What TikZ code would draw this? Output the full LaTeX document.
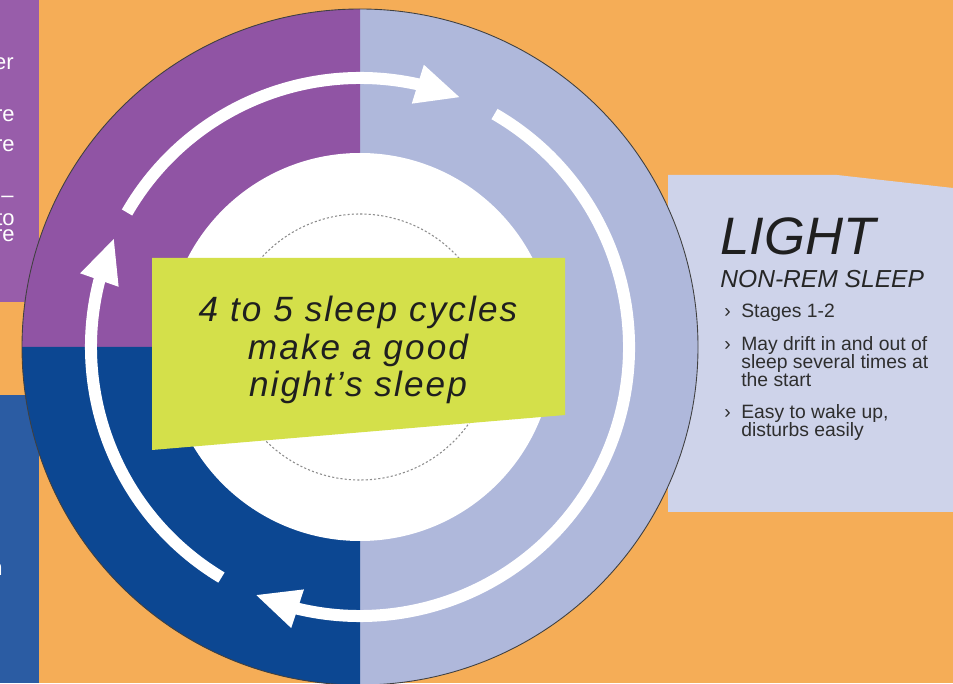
\documentclass[tikz,border=0pt]{standalone}
\usepackage{fontspec}
\setmainfont{Liberation Sans}
\newfontfamily\cyclefont[LetterSpace=6]{Liberation Sans}
\usepackage{xcolor}
\usepackage{tikz}
\usetikzlibrary{positioning,calc,arrows.meta,bending}
\definecolor{sleeporange}{HTML}{F5AD57}
\definecolor{remviolet}{HTML}{9054A4}
\definecolor{deepblue}{HTML}{0C4792}
\definecolor{lightblue}{HTML}{AFB8DB}
\definecolor{panelblue}{HTML}{CED3EA}
\definecolor{sidepurple}{HTML}{985DAA}
\definecolor{sideblue}{HTML}{2B5CA3}
\definecolor{limebox}{HTML}{D4E04A}
\tikzset{
ring arrow/.style = {draw=white, line width=0.24cm, -{Triangle[length=0.9cm, width=0.74cm]}},
side text/.style  = {text=white, font=\fontsize{12.5}{9.6}\selectfont, align=right, anchor=base east, inner sep=0pt},
title/.style      = {font=\itshape\fontsize{30}{30}\selectfont, text=black!88, anchor=base west, inner sep=0pt},
subtitle/.style   = {font=\itshape\fontsize{14}{14}\selectfont, text=black!85, anchor=base west, inner sep=0pt},
item/.style       = {font=\fontsize{11}{10.5}\selectfont, text=black!82, align=left, anchor=base west, inner sep=0pt},
cycle text/.style = {font=\cyclefont\itshape\fontsize{20}{21.5}\selectfont, text=black!88, align=center, inner sep=0pt}
}
\newcommand{\bul}{\llap{›\hspace{6pt}}}
\begin{document}
\begin{tikzpicture}[x=0.02cm, y=0.02cm]
    \useasboundingbox (0,0) rectangle (953,683);
    \fill[sleeporange] (0,0) rectangle (953,683);
    % side panels
    \fill[sidepurple] (0,381) rectangle (39,683);
    \fill[sideblue] (0,0) rectangle (39,288);
    \begin{scope}
    \clip (0,0) rectangle (953,683);
    \node [side text] (er) at (14,613) {er};
    \node [side text] (re1) at (15,561) {re};
    \node [side text] (re2) at (15,531) {re};
    \node [side text] (dash) at (14,480) {–};
    \node [side text] (tore) at (15,441) {to\\re};
    \node [side text] (n) at (3,108) {n};
    \end{scope}
    % light sleep panel
    \fill[panelblue] (668,171) -- (668,508) -- (837,508) -- (953,495) -- (953,171) -- cycle;
    % wheel
    \coordinate (c) at (360,336);
    \fill[lightblue] (c) -- ++(-90:338) arc[start angle=-90, end angle=90, radius=338] -- cycle;
    \fill[remviolet] (c) -- ++(90:338) arc[start angle=90, end angle=180, radius=338] -- cycle;
    \fill[deepblue] (c) -- ++(180:338) arc[start angle=180, end angle=270, radius=338] -- cycle;
    \draw[black!75, line width=0.5pt] (c) circle[radius=338];
    \fill[white] (c) circle[radius=194];
    \draw[black!45, line width=0.6pt, dash pattern=on 1.2pt off 1.2pt] (c) circle[radius=133];
    \draw[ring arrow] ($(c)+(150:269)$) arc[start angle=150, end angle=68, radius=269];
    \draw[ring arrow] ($(c)+(60:269)$) arc[start angle=60, end angle=-113, radius=269];
    \draw[ring arrow] ($(c)+(239:269)$) arc[start angle=239, end angle=156, radius=269];
    % centre label
    \fill[limebox] (152,425) -- (565,425) -- (565,268) -- (152,233) -- cycle;
    \node [cycle text] (cycles) at (358,333) {4 to 5 sleep cycles\\make a good\\night’s sleep};
    % panel text
    \node [title] (light) at (720,428) {LIGHT};
    \node [below=0.66cm of light.base west, subtitle] (nonrem) {NON-REM SLEEP};
    \node [below right=0.6cm and 0.42cm of nonrem.base west, item] (stages) {\bul Stages 1-2};
    \node [below=1.38cm of stages.base west, item] (drift) {\bul May drift in and out of\\sleep several times at\\the start};
    \node [below=1.0cm of drift.base west, item] (wake) {\bul Easy to wake up,\\disturbs easily};
\end{tikzpicture}
\end{document}
